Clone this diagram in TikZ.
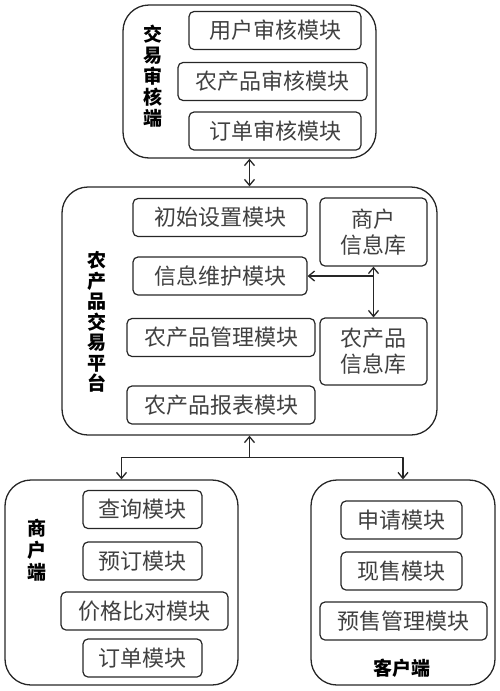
\documentclass[tikz,border=0pt]{standalone}
\usepackage{fontspec}
\setmainfont{Noto Sans CJK SC}
\usetikzlibrary{arrows.meta,calc}
\tikzset{
  mod/.style={draw=black!85,line width=1.2pt,rounded corners=5pt,inner sep=0pt,
    minimum height=38pt,text=black!75,font=\fontsize{22}{26}\selectfont},
  outer/.style={draw=black!85,line width=1.3pt,rounded corners=26pt,inner sep=0pt},
  side/.style={align=center,font=\fontsize{19}{21}\selectfont\bfseries},
  link/.style={line width=1.3pt,draw=black!85}
}
\begin{document}
\begin{tikzpicture}[x=1pt,y=-1pt,>={Straight Barb[length=6pt,width=10pt]},line join=round]
  \useasboundingbox (0,0) rectangle (500,691);
  % outer boxes
  \node[outer,minimum width=253pt,minimum height=153pt] (audit) at (249.5,81.5) {};
  \node[outer,minimum width=375pt,minimum height=248pt] (plat) at (249.5,311) {};
  \node[outer,minimum width=233pt,minimum height=205pt] (mer) at (121.5,582.5) {};
  \node[outer,minimum width=184pt,minimum height=205pt] (cli) at (403,582.5) {};
  % side labels
  \node[side] (auditlbl) at (153,76) {交\\易\\审\\核\\端};
  \node[side,font=\fontsize{19}{20.5}\selectfont\bfseries] (platlbl) at (97,322) {农\\产\\品\\交\\易\\平\\台};
  \node[side,font=\fontsize{19}{22}\selectfont\bfseries] (merlbl) at (37,550) {商\\户\\端};
  \node[side] (clilbl) at (402,668) {客户端};
  % modules
  \foreach \n/\x/\y/\w/\t in {
    u1/275/30.5/172/用户审核模块, u2/272.5/81.5/189/农产品审核模块, u3/275/131/172/订单审核模块,
    p1/220/217.5/174/初始设置模块, p2/220/276/174/信息维护模块,
    p3/221/337.5/188/农产品管理模块, p4/221/405/188/农产品报表模块,
    m1/142.5/509.5/119/查询模块, m2/142.5/561/119/预订模块,
    m3/144.5/611/167/价格比对模块, m4/142.5/658/119/订单模块,
    c1/401.5/520/121/申请模块, c2/401.5/571/121/现售模块, c3/403.5/621/167/预售管理模块}{
    \node[mod,minimum width=\w pt] (\n) at (\x,\y) {\t};
  }
  % databases
  \node[mod,minimum width=107pt,minimum height=68pt,align=center,font=\fontsize{22}{26}\selectfont] (db1) at (373.5,232) {商户\\信息库};
  \node[mod,minimum width=107pt,minimum height=67pt,align=center,font=\fontsize{22}{26}\selectfont] (db2) at (373.5,351.5) {农产品\\信息库};
  % links
  \draw[link,<->] (audit.south) -- (plat.north);
  \draw[link,<->] (db1.south) -- (db2.north);
  \coordinate (j1) at (db1.south |- p2.east);
  \draw[link,->] (j1) -- (p2.east);
  \coordinate (j2) at ($(plat.south)+(0,22)$);
  \draw[link,->] (j2) -- (plat.south);
  \draw[link,->] (j2) -| (mer.north);
  \draw[link,->] (j2) -| (cli.north);
\end{tikzpicture}
\end{document}
